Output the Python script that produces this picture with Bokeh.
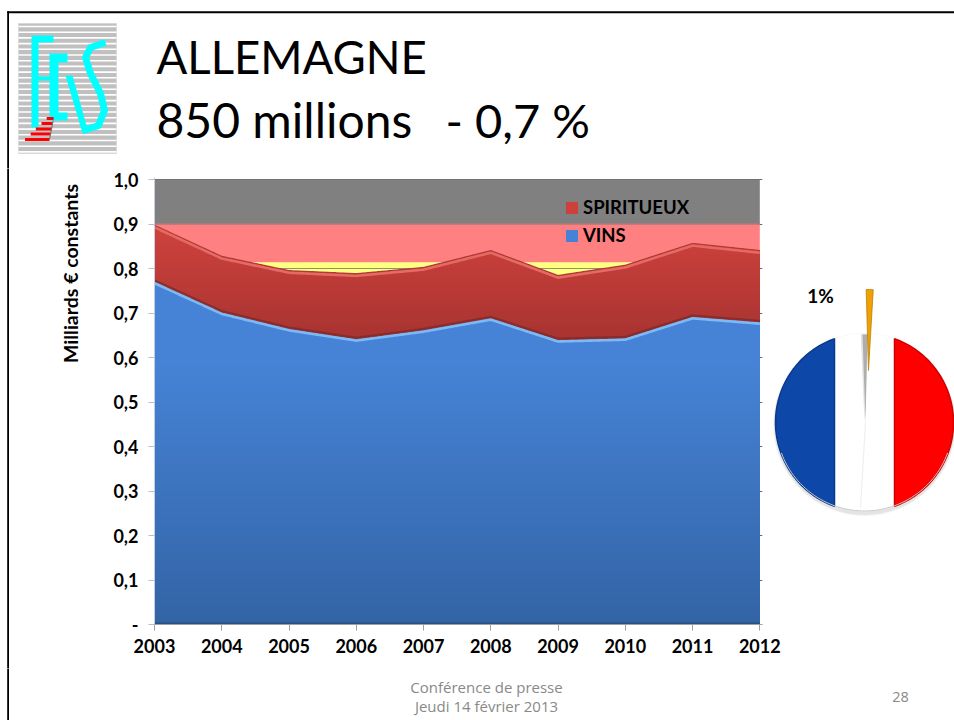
import numpy as np
from bokeh.plotting import figure
from bokeh.layouts import column, row
from bokeh.models import Range1d, FixedTicker, Legend, LegendItem
from bokeh.core.properties import value
from bokeh.embed import file_html
from bokeh.resources import INLINE

# ---- data
years = [2003, 2004, 2005, 2006, 2007, 2008, 2009, 2010, 2011, 2012]
vins = [0.769, 0.700, 0.663, 0.640, 0.660, 0.687, 0.638, 0.642, 0.690, 0.678]
spiritueux_top = [0.897, 0.827, 0.795, 0.788, 0.802, 0.840, 0.784, 0.807, 0.856, 0.840]
band_levels = [0.0, 0.814, 0.90, 1.0]
band_colors = ["#FFFF80", "#FF8080"]
y_ticks = [0, .1, .2, .3, .4, .5, .6, .7, .8, .9, 1.0]
y_labels = ["-", "0,1", "0,2", "0,3", "0,4", "0,5", "0,6", "0,7", "0,8", "0,9", "1,0"]
pie_values = [98.6, 1.4]
title_1 = "ALLEMAGNE"
title_2a = "850 millions"
title_2b = "- 0,7 %"
y_title = "Milliards € constants"
footer_lines = ["Conférence de presse", "Jeudi 14 février 2013"]
page_number = "28"

BOLD = "Lato"


def blank(w, h, xr, yr):
    f = figure(width=w, height=h, x_range=Range1d(*xr), y_range=Range1d(*yr),
               x_axis_type=None, y_axis_type=None, toolbar_location=None,
               output_backend="svg", min_border=0)
    f.outline_line_color = None
    f.grid.visible = False
    return f


def mix(c1, c2, t):
    a = [int(c1[i:i + 2], 16) for i in (1, 3, 5)]
    b = [int(c2[i:i + 2], 16) for i in (1, 3, 5)]
    return "#%02x%02x%02x" % tuple(int(round(a[i] + (b[i] - a[i]) * t)) for i in range(3))


# ---- header (coordinates of the page)
head = blank(954, 168, (0, 954), (168, 0))
head.quad(left=[6.7], right=[954], top=[10.7], bottom=[12.7], fill_color="black", line_color=None)
head.quad(left=[6.7], right=[8.5], top=[10.7], bottom=[175], fill_color="black", line_color=None)
head.quad(left=[18], right=[116], top=[23], bottom=[153], fill_color="#C0C0C0", line_color="#D8D8D8")
ys = np.arange(26, 153, 5.7)
head.segment(x0=[18] * len(ys), x1=[116] * len(ys), y0=ys, y1=ys, line_color="white", line_width=1.6)
cy = "#00FFFF"
head.patch([31, 53, 53, 38, 38, 50, 50, 38, 38, 31],
           [35, 35, 42, 42, 76, 76, 80, 80, 127, 127], fill_color=cy, line_color=None)
head.patch([49, 67, 67, 58, 58, 67, 67, 49], [53, 53, 62, 62, 112, 112, 120, 120], fill_color=cy, line_color=None)
head.patch([65, 72, 88, 82], [75, 75, 132, 133], fill_color=cy, line_color=None)
head.line([105, 90, 85, 90, 100, 104, 98, 83], [42, 47, 57, 73, 93, 110, 125, 130],
          line_color=cy, line_width=7, line_join="round")
stair_y = [118, 123, 128.5, 133.5, 139]
for yy in stair_y:
    xl = 46.7 - (yy - 117.5) * (46.7 - 24) / 22
    xr = 52.7 - (yy - 120) * (52.7 - 49) / 19
    head.quad(left=[xl], right=[xr], top=[yy - 1.6], bottom=[yy + 1.6], fill_color="#FF0000", line_color=None)
head.line([52.7, 49], [120, 139], line_color="#707070", line_width=1)
for t, xx, yy, fs in [(title_1, 156, 56, "45.5px"), (title_2a, 156, 119, "48px"), (title_2b, 445, 119, "47px")]:
    head.text(x=[xx], y=[yy], text=[t], text_font=value("Lato"), text_font_size=fs,
              text_color="black", text_baseline="middle", text_align="left")

# ---- y title strip
side = blank(90, 500, (0, 90), (668, 168))
side.quad(left=[6.7], right=[8.5], top=[160], bottom=[675], fill_color="black", line_color=None)
side.text(x=[70], y=[273], text=[y_title], angle=np.pi / 2, text_font=value(BOLD), text_font_style="bold",
          text_font_size="19.5px", text_color="black", text_align="center", text_baseline="middle")

# ---- chart
chart = figure(width=700, height=500, x_range=Range1d(2003, 2012.04), y_range=Range1d(0, 1.0045),
               toolbar_location=None, output_backend="svg",
               min_border_left=64, min_border_right=28, min_border_top=9, min_border_bottom=44)
chart.outline_line_color = None
chart.xgrid.visible = False
chart.ygrid.ticker = FixedTicker(ticks=y_ticks)
chart.ygrid.grid_line_color = "#666666"
chart.xaxis.ticker = FixedTicker(ticks=years)
chart.yaxis.ticker = FixedTicker(ticks=y_ticks)
chart.xaxis.major_label_overrides = {y: str(y) for y in years}
chart.yaxis.major_label_overrides = dict(zip(y_ticks, y_labels))
for ax in (chart.xaxis, chart.yaxis):
    ax.axis_line_color = "#C5CEDC"
    ax.major_tick_line_color = "#B8BEC8"
    ax.minor_tick_line_color = None
    ax.major_tick_in = 0
    ax.major_tick_out = 6
    ax.major_label_text_font = BOLD
    ax.major_label_text_font_style = "bold"
    ax.major_label_text_font_size = "18px"
    ax.major_label_text_color = "black"
chart.xaxis.major_label_standoff = 8
chart.yaxis.major_label_standoff = 10
chart.xaxis.axis_line_color = "#A0A0A0"
chart.xaxis.major_tick_line_color = "#A0A0A0"

X = [years[0], years[-1]]
chart.quad(left=years[0], right=years[-1], bottom=band_levels[2], top=1.0, fill_color="#808080", line_color=None)
for i in range(2):
    chart.quad(left=years[0], right=years[-1], bottom=band_levels[i], top=band_levels[i + 1],
               fill_color=band_colors[i], line_color=None)
chart.line(X, [0.9, 0.9], line_color="#B07878", line_width=1.5)
chart.line(X, [0.8, 0.8], line_color="#909070", line_width=1)

xs = np.unique(np.concatenate([np.linspace(years[0], years[-1], 541), years]))
blue = np.interp(xs, years, vins)
red = np.interp(xs, years, spiritueux_top)

r_red = None
for b in np.linspace(0.9, 0.6, 31):
    t = (0.88 - b) / 0.25
    col = mix("#CC413C", "#A53230", min(max(t, 0), 1))
    r = chart.varea(x=xs, y1=blue, y2=np.maximum(blue, np.minimum(red, b)), fill_color=col)
    r_red = r_red or r

r_blue = None
for b in np.linspace(0.8, 0.0, 41):
    col = mix("#3263A4", "#4683D6", min(b / 0.6, 1))
    r = chart.varea(x=xs, y1=0, y2=np.minimum(blue, b), fill_color=col)
    r_blue = r_blue or r

chart.line(xs, blue + 0.0045, line_color="#7C2C2A", line_width=2, line_alpha=.8)
chart.line(xs, blue - 0.002, line_color="#7DB9F5", line_width=2.6)
chart.line(xs, red - 0.0045, line_color="#E56A64", line_width=2.6)
chart.line(xs, red + 0.0005, line_color="#A83A38", line_width=1)
chart.line(X, [0.002, 0.002], line_color="#28507F", line_width=2)

legend = Legend(items=[LegendItem(label="SPIRITUEUX", renderers=[r_red]),
                       LegendItem(label="VINS", renderers=[r_blue])],
                location=(410, 378), orientation="vertical", background_fill_alpha=0,
                border_line_color=None, glyph_width=15, glyph_height=15, spacing=6,
                padding=0, margin=0, label_text_font=BOLD, label_text_font_style="bold",
                label_text_font_size="18.5px", label_text_color="black", label_standoff=4)
chart.add_layout(legend)

# ---- pie (centred on 0, 0), sharing the row with the chart over its empty right margin
pie = blank(184, 500, (-94, 90), (-246, 254))
pie.background_fill_alpha = 0
pie.border_fill_alpha = 0
for k, a in [(2.5, .08), (1.5, .12)]:
    pie.circle(x=[0], y=[-2], radius=89 + k, fill_color="#707070", fill_alpha=a, line_color=None)
share = np.array(pie_values) / sum(pie_values)
half = share[1] * np.pi
pie.wedge(x=[0], y=[0], radius=89, start_angle=np.pi / 2 + half, end_angle=np.pi / 2 + 2 * np.pi - half,
          fill_color="white", line_color=None)


def segment(sign):
    a0 = np.arcsin(30 / 89)
    th = np.linspace(a0, np.pi - a0, 80) - np.pi / 2 + (0 if sign > 0 else np.pi)
    return np.cos(th) * 89, np.sin(th) * 89


sx, sy = segment(-1)
pie.patch(sx, sy, fill_color="#0D47A8", line_color="#0A3A8C", line_width=1.5)
sx, sy = segment(1)
pie.patch(sx, sy, fill_color="#FF0000", line_color="#D00000", line_width=1.5)
th = np.linspace(-np.pi + .35, -.35, 60)
pie.line(np.cos(th) * 88.5, np.sin(th) * 88.5, line_color="#C8C8C8", line_width=1)
pie.patch([-2, 3, 1], [88, 88, 0], fill_color="#A0A0A0", fill_alpha=.8, line_color=None)
pie.line([1, -4], [0, -85], line_color="#EDEDED", line_width=1)
pie.wedge(x=[4], y=[52], radius=81, start_angle=np.pi / 2 - half - 0.015, end_angle=np.pi / 2 + half - 0.015,
          fill_color="#F0A000", line_color="#B07800", line_width=.7)
pie.text(x=[-44], y=[127], text=["1%"], text_font=value(BOLD), text_font_style="bold", text_font_size="19px",
         text_color="black", text_align="center", text_baseline="middle")

# ---- footer (coordinates of the page)
foot = blank(954, 52, (0, 954), (720, 668))
foot.quad(left=[6.7], right=[8.5], top=[660], bottom=[725], fill_color="black", line_color=None)
for t, yy in zip(footer_lines, [686.5, 705.5]):
    foot.text(x=[486], y=[yy], text=[t], text_font=value("Open Sans"), text_font_size="15px", text_color="#898989",
              text_align="center", text_baseline="middle")
foot.text(x=[900], y=[696], text=[page_number], text_font=value("Open Sans"), text_font_size="14.5px",
          text_color="#898989", text_align="center", text_baseline="middle")

side_box = column(side)
pie_box = column(pie, margin=(0, 0, 0, -20))
page = column(head, row(side_box, chart, pie_box), foot)
open("out.html", "w").write(file_html(page, INLINE))
